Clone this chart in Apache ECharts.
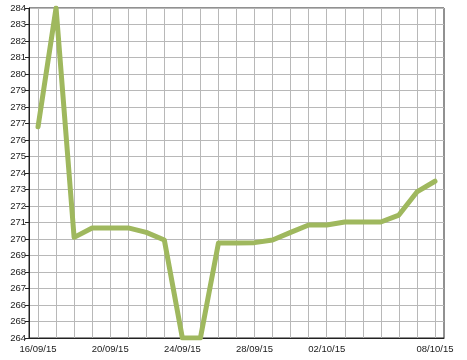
<!DOCTYPE html>
<html>
<head>
<meta charset="utf-8">
<script src="https://cdn.jsdelivr.net/npm/echarts@6/dist/echarts.min.js"></script>
<style>html,body{margin:0;padding:0;background:#fff}#c{width:467px;height:360px}</style>
</head>
<body>
<div id="c"></div>
<script>
var dates = ['16/09/15','17/09/15','18/09/15','19/09/15','20/09/15','21/09/15','22/09/15','23/09/15','24/09/15','25/09/15','26/09/15','27/09/15','28/09/15','29/09/15','30/09/15','01/10/15','02/10/15','03/10/15','04/10/15','05/10/15','06/10/15','07/10/15','08/10/15'];
var values = [276.8, 284.0, 270.1, 270.67, 270.67, 270.67, 270.4, 269.94, 264.0, 264.0, 269.76, 269.76, 269.78, 269.94, 270.4, 270.85, 270.85, 271.03, 271.03, 271.03, 271.45, 272.85, 273.5];
var labeledIdx = [0, 4, 8, 12, 16, 22];
var yMin = 264, yMax = 284, yStep = 1;

var chart = echarts.init(document.getElementById('c'));
var font = {fontFamily: 'Liberation Sans', fontSize: 9.5, color: '#1a1a1a'};
chart.setOption({
  animation: false,
  grid: {left: 29, right: 23, top: 8, bottom: 22, show: true, borderColor: '#222', borderWidth: 1, backgroundColor: 'transparent'},
  xAxis: {
    type: 'category', data: dates, boundaryGap: true,
    axisLine: {lineStyle: {color: '#222', width: 1}},
    axisTick: {alignWithLabel: true, length: 4, lineStyle: {color: '#222'},
      interval: function (i) { return labeledIdx.indexOf(i) >= 0; }},
    axisLabel: Object.assign({margin: 6, interval: function (i) { return labeledIdx.indexOf(i) >= 0; }}, font),
    splitLine: {show: true, interval: 0, alignWithLabel: true, lineStyle: {color: '#b8b8b8', width: 1}}
  },
  yAxis: {
    type: 'value', min: yMin, max: yMax, interval: yStep,
    axisLine: {show: true, lineStyle: {color: '#222', width: 1}},
    axisTick: {show: true, length: 4, lineStyle: {color: '#222'}},
    axisLabel: Object.assign({margin: 3}, font),
    splitLine: {show: true, lineStyle: {color: '#b8b8b8', width: 1}}
  },
  series: [{
    type: 'line', data: values, symbol: 'none', clip: true,
    lineStyle: {color: '#9fb85e', width: 5, join: 'round', cap: 'round'}
  }]
});
</script>
</body>
</html>
